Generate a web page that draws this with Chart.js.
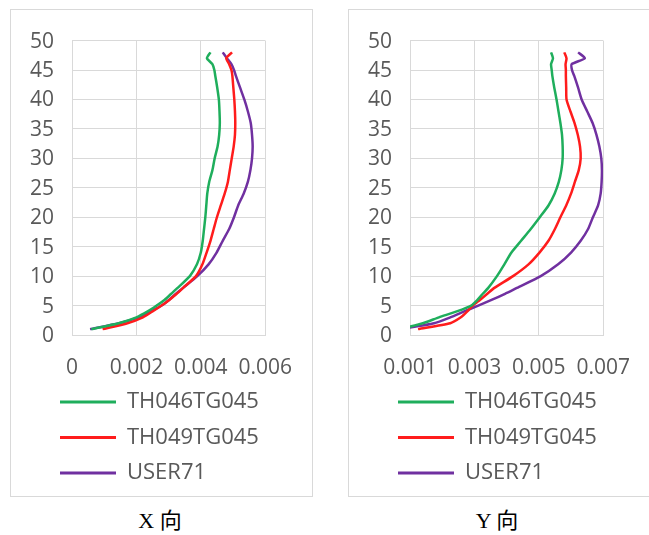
<!DOCTYPE html>
<html><head><meta charset="utf-8">
<script src="https://cdn.jsdelivr.net/npm/chart.js@4"></script>
<style>
html,body{margin:0;padding:0;background:#fff;width:649px;height:535px;overflow:hidden;position:relative}
.box{position:absolute;top:9px;width:303px;height:488px;border:1px solid #d9d9d9;box-sizing:border-box;background:#fff}
.box canvas{position:absolute;left:0;top:0}
.cap{position:absolute;top:508px;width:120px;text-align:center;font-family:"Liberation Serif","Times New Roman","Noto Sans CJK SC",serif;font-size:22px;line-height:26px;color:#000;white-space:nowrap}
</style></head><body>
<div class="box" style="left:10px"><canvas id="cx" width="301" height="486"></canvas></div>
<div class="box" style="left:348px"><canvas id="cy" width="301" height="486"></canvas></div>
<div class="cap" style="left:100px">X 向</div>
<div class="cap" style="left:437px">Y 向</div>
<script>
// storey levels (vertical axis)
const floors = [1,2,3,4,5,6,7,8,10,12,14,16,18,20,22,24,26,28,30,32,34,36,38,40,42,44,45,46,47,48];
const seriesNames = ['TH046TG045','TH049TG045','USER71'];
const seriesColors = ['#1fae5c','#ff1c1c','#7030a0'];

// X direction drift ratios
const xTH046 = [0.00060,0.00145,0.00200,0.00235,0.00263,0.00288,0.00308,0.00328,0.00366,0.00388,0.00400,0.00406,0.00410,0.00414,0.00417,0.00420,0.00426,0.00436,0.00443,0.00452,0.00457,0.00459,0.00458,0.00456,0.00451,0.00445,0.00442,0.00436,0.00419,0.00430];
const xTH049 = [0.00095,0.00172,0.00220,0.00250,0.00278,0.00303,0.00325,0.00345,0.00385,0.00405,0.00418,0.00430,0.00440,0.00450,0.00462,0.00474,0.00484,0.00490,0.00496,0.00502,0.00506,0.00507,0.00506,0.00504,0.00501,0.00498,0.00495,0.00488,0.00479,0.00497];
const xUSER71 = [0.00056,0.00146,0.00207,0.00245,0.00278,0.00302,0.00323,0.00345,0.00389,0.00424,0.00449,0.00468,0.00488,0.00503,0.00516,0.00533,0.00546,0.00554,0.00559,0.00561,0.00559,0.00555,0.00546,0.00535,0.00522,0.00509,0.00503,0.00495,0.00481,0.00468];

// Y direction drift ratios
const yTH046 = [0.00070,0.00140,0.00190,0.00245,0.00290,0.00310,0.00326,0.00343,0.00370,0.00393,0.00415,0.00445,0.00475,0.00503,0.00530,0.00549,0.00562,0.00570,0.00574,0.00574,0.00572,0.00567,0.00561,0.00555,0.00548,0.00542,0.00540,0.00538,0.00544,0.00538];
const yTH049 = [0.00125,0.00225,0.00258,0.00278,0.00295,0.00318,0.00340,0.00362,0.00420,0.00468,0.00502,0.00530,0.00550,0.00567,0.00585,0.00600,0.00612,0.00624,0.00630,0.00628,0.00621,0.00611,0.00598,0.00586,0.00585,0.00584,0.00584,0.00583,0.00586,0.00579];
const yUSER71 = [0.00070,0.00175,0.00225,0.00268,0.00312,0.00355,0.00395,0.00432,0.00506,0.00560,0.00600,0.00630,0.00653,0.00668,0.00684,0.00692,0.00695,0.00696,0.00694,0.00688,0.00679,0.00667,0.00650,0.00633,0.00622,0.00610,0.00603,0.00602,0.00643,0.00622];

// tick values / labels
const xTickValsX = [0,0.002,0.004,0.006];
const xTickLabelsX = ['0','0.002','0.004','0.006'];
const xTickValsY = [0.001,0.003,0.005,0.007];
const xTickLabelsY = ['0.001','0.003','0.005','0.007'];
const yTickMin = 0, yTickMax = 50, yTickStep = 5;

const TICK_FONT = {family:'"Open Sans"', size:21};
const LEG_FONT = {family:'"Open Sans"', size:22};
const TEXT = '#595959';
const GRID = '#d9d9d9';

// moves the (library-drawn) legend block to the right, like the Excel legend
const legendShift = {
  id: 'legendShift',
  afterLayout(chart) {
    const l = chart.legend;
    if (l) { l.left += 21.5; l.right += 21.5; }
  }
};

function makeChart(id, series, tickVals, tickLabels){
  const datasets = series.map((vals, i) => ({
    label: seriesNames[i],
    data: floors.map((f, k) => ({x: vals[k], y: f})),
    borderColor: seriesColors[i],
    backgroundColor: seriesColors[i],
    borderWidth: 2.5,
    pointRadius: 0,
    pointHoverRadius: 0,
    showLine: true,
    tension: 0.2,
    fill: false,
    clip: 0
  }));
  return new Chart(document.getElementById(id), {
    type: 'scatter',
    data: {datasets},
    plugins: [legendShift],
    options: {
      responsive: false,
      animation: false,
      devicePixelRatio: 1,
      events: [],
      layout: {padding: {left: 14, right: 43, top: 28, bottom: 2}},
      plugins: {
        tooltip: {enabled: false},
        legend: {
          position: 'bottom',
          align: 'start',
          labels: {
            font: LEG_FONT, color: TEXT,
            boxWidth: 56, boxHeight: 3, padding: 13.5,
            generateLabels: chart => Chart.defaults.plugins.legend.labels.generateLabels(chart)
              .map(it => Object.assign(it, {lineWidth: 0, fillStyle: it.strokeStyle}))
          }
        }
      },
      scales: {
        x: {
          type: 'linear',
          min: tickVals[0], max: tickVals[tickVals.length-1],
          afterBuildTicks: s => { s.ticks = tickVals.map(v => ({value: v})); },
          afterFit: s => { s.height = 42.5; },
          grid: {color: GRID, lineWidth: 1, drawTicks: false},
          border: {color: GRID},
          ticks: {font: TICK_FONT, color: TEXT, padding: 20, maxRotation: 0, autoSkip: false,
                  callback: (v, i) => tickLabels[i]}
        },
        y: {
          type: 'linear',
          min: yTickMin, max: yTickMax,
          afterFit: s => { s.width = 47; },
          grid: {color: GRID, lineWidth: 1, drawTicks: false},
          border: {color: GRID},
          ticks: {font: TICK_FONT, color: TEXT, stepSize: yTickStep, padding: 18, labelOffset: 1}
        }
      }
    }
  });
}

makeChart('cx', [xTH046, xTH049, xUSER71], xTickValsX, xTickLabelsX);
makeChart('cy', [yTH046, yTH049, yUSER71], xTickValsY, xTickLabelsY);
</script>
</body></html>
